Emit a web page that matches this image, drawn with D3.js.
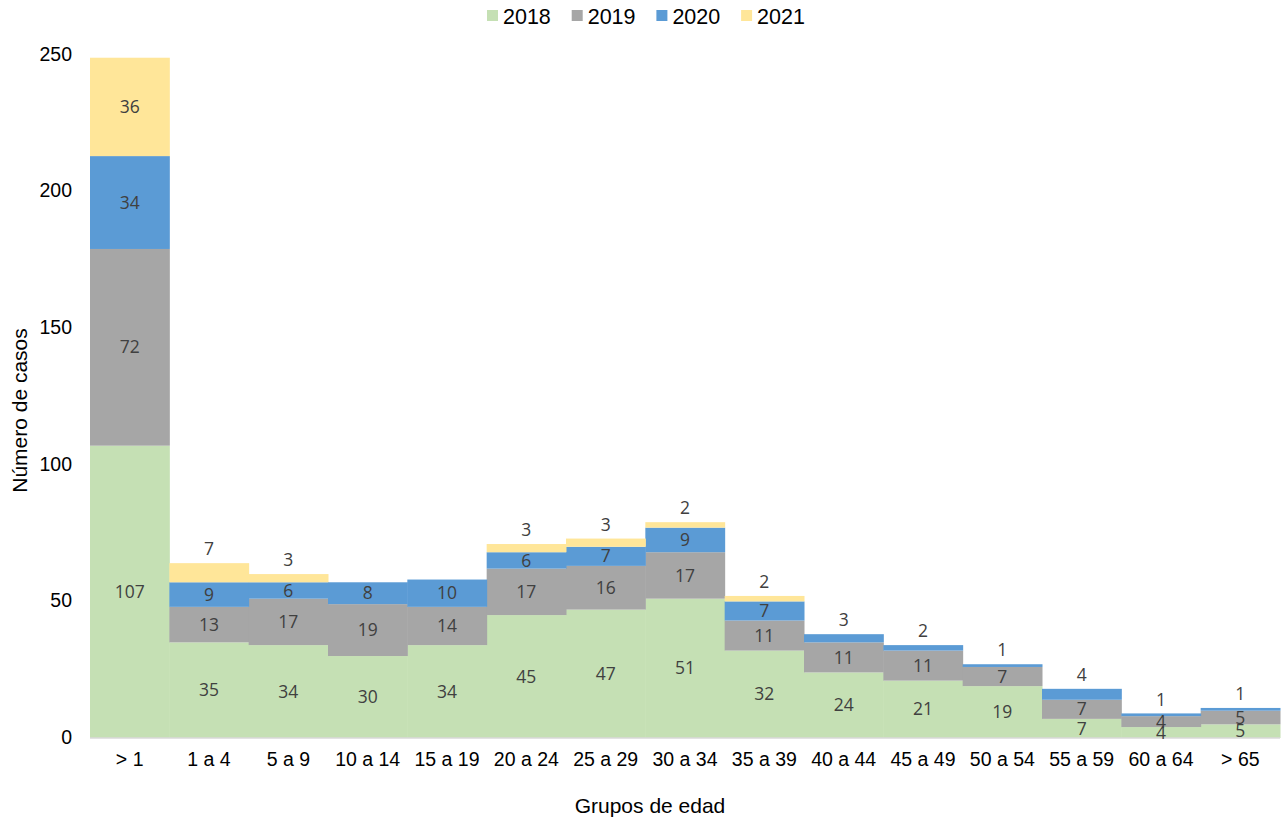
<!DOCTYPE html>
<html lang="es">
<head>
    <meta charset="UTF-8">
    <script src="https://d3js.org/d3.v7.min.js"></script>
    <title>Casos por grupos de edad</title>
    <style>
        body { margin: 0; background: #fff; }
        svg text { font-family: "Liberation Sans", Arial, sans-serif; }
        .axis text { font-size: 19.5px; fill: #000; }
        .lbl { font-family: "Open Sans", "Noto Sans", sans-serif !important; font-size: 17.5px; fill: #404040; text-anchor: middle; }
    </style>
</head>
<body>
<div id="chart"></div>
<script>
    // Data
    var categories = ["> 1", "1 a 4", "5 a 9", "10 a 14", "15 a 19", "20 a 24", "25 a 29", "30 a 34",
                      "35 a 39", "40 a 44", "45 a 49", "50 a 54", "55 a 59", "60 a 64", "> 65"];
    var years = ["2018", "2019", "2020", "2021"];
    var v2018 = [107, 35, 34, 30, 34, 45, 47, 51, 32, 24, 21, 19, 7, 4, 5];
    var v2019 = [72, 13, 17, 19, 14, 17, 16, 17, 11, 11, 11, 7, 7, 4, 5];
    var v2020 = [34, 9, 6, 8, 10, 6, 7, 9, 7, 3, 2, 1, 4, 1, 1];
    var v2021 = [36, 7, 3, 0, 0, 3, 3, 2, 2, 0, 0, 0, 0, 0, 0];
    var yTicks = [0, 50, 100, 150, 200, 250];
    var colors = ["#c5e0b4", "#a6a6a6", "#5b9bd5", "#ffe699"];

    var width = 1287, height = 822;
    var margin = { left: 90, right: 7, top: 55, bottom: 84 };

    var svg = d3.select("#chart").append("svg")
        .attr("width", width)
        .attr("height", height);

    var rows = categories.map(function (c, i) {
        return { cat: c, "2018": v2018[i], "2019": v2019[i], "2020": v2020[i], "2021": v2021[i] };
    });

    var x = d3.scaleBand()
        .domain(categories)
        .range([margin.left, width - margin.right])
        .padding(0);

    var y = d3.scaleLinear()
        .domain([0, 250])
        .range([height - margin.bottom, margin.top]);

    var stack = d3.stack().keys(years)(rows);

    // bars, no gap between categories
    var layer = svg.selectAll("g.layer")
        .data(stack)
        .enter().append("g")
        .attr("class", "layer")
        .attr("fill", function (d, i) { return colors[i]; });

    layer.selectAll("rect")
        .data(function (d) { return d; })
        .enter().append("rect")
        .attr("x", function (d) { return x(d.data.cat); })
        .attr("width", x.bandwidth() + 0.5)
        .attr("y", function (d) { return y(d[1]); })
        .attr("height", function (d) { return y(d[0]) - y(d[1]); });

    // baseline
    svg.append("line")
        .attr("x1", margin.left).attr("x2", width - margin.right)
        .attr("y1", y(0)).attr("y2", y(0))
        .attr("stroke", "#d9d9d9").attr("stroke-width", 1.5);

    // data labels: small top segments go above the stack
    var labels = [];
    stack.forEach(function (s, si) {
        s.forEach(function (d, ci) {
            var val = d[1] - d[0];
            if (val <= 0) return;
            var topMost = true;
            for (var k = si + 1; k < stack.length; k++) {
                if (stack[k][ci][1] - stack[k][ci][0] > 0) topMost = false;
            }
            var cy = (topMost && val < 8) ? y(d[1]) - 14 : (y(d[0]) + y(d[1])) / 2;
            labels.push({ x: x(d.data.cat) + x.bandwidth() / 2, y: cy, t: val });
        });
    });

    svg.selectAll("text.lbl")
        .data(labels)
        .enter().append("text")
        .attr("class", "lbl")
        .attr("x", function (d) { return d.x; })
        .attr("y", function (d) { return d.y; })
        .attr("dy", "0.35em")
        .text(function (d) { return d.t; });

    // y axis
    var yAxis = svg.append("g")
        .attr("class", "axis")
        .attr("transform", "translate(" + (margin.left - 18) + ",-1)")
        .call(d3.axisLeft(y).tickValues(yTicks).tickSize(0).tickPadding(0));
    yAxis.select(".domain").remove();

    // x axis
    var xAxis = svg.append("g")
        .attr("class", "axis")
        .attr("transform", "translate(0," + (y(0) + 9) + ")")
        .call(d3.axisBottom(x).tickSize(0).tickPadding(5));
    xAxis.select(".domain").remove();

    // axis titles
    svg.append("text")
        .attr("transform", "translate(27," + ((margin.top + y(0)) / 2 + 14) + ") rotate(-90)")
        .attr("text-anchor", "middle")
        .style("font-size", "21px")
        .text("Número de casos");

    svg.append("text")
        .attr("x", 650)
        .attr("y", 813)
        .attr("text-anchor", "middle")
        .style("font-size", "21px")
        .text("Grupos de edad");

    // legend
    var legend = svg.append("g").attr("transform", "translate(487,0)");
    var item = legend.selectAll("g")
        .data(years)
        .enter().append("g")
        .attr("transform", function (d, i) { return "translate(" + (i * 84.7) + ",0)"; });
    item.append("rect")
        .attr("y", 10).attr("width", 11).attr("height", 11)
        .attr("fill", function (d, i) { return colors[i]; });
    item.append("text")
        .attr("x", 16).attr("y", 24)
        .style("font-size", "21.5px")
        .text(function (d) { return d; });
</script>
</body>
</html>
